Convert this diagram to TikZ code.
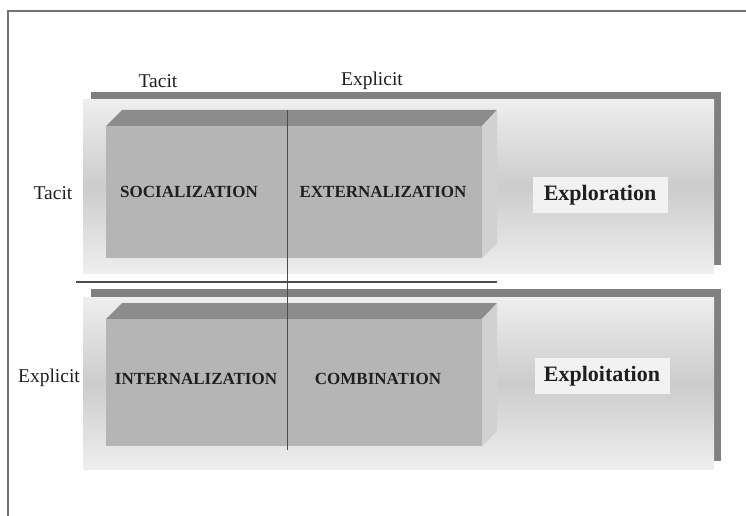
\documentclass[tikz,border=0pt]{standalone}
\usepackage{fontspec}
\setmainfont{Liberation Serif}
\usepackage{xcolor}
\usepackage{tikz}

\definecolor{frameGray}{gray}{0.45}
\definecolor{barGray}{gray}{0.5}
\definecolor{panelLight}{gray}{0.935}
\definecolor{panelMid}{gray}{0.8}
\definecolor{topGray}{gray}{0.55}
\definecolor{frontGray}{gray}{0.71}
\definecolor{sideGray}{gray}{0.82}
\definecolor{modeGray}{gray}{0.95}
\definecolor{lineGray}{gray}{0.3}
\definecolor{inkGray}{gray}{0.12}

\begin{document}
\begin{tikzpicture}[x=1pt, y=-1pt,
            quad/.style={font=\fontsize{17}{17}\selectfont\bfseries, text=inkGray, inner sep=0pt},
            axis/.style={font=\fontsize{19.5}{20}\selectfont, text=inkGray, inner sep=0pt},
            mode/.style={fill=modeGray, minimum width=135pt, minimum height=36pt, inner sep=0pt,
                         font=\fontsize{22}{22}\selectfont\bfseries, text=inkGray},
            panel/.style={top color=panelLight, bottom color=panelLight, middle color=panelMid}
            ]
            \useasboundingbox (0,0) rectangle (746,516);

            % Outer frame
            \draw[frameGray, line width=1.5pt] (746,11) -- (8,11) -- (8,516);

            % Upper panel with shadow and block
            \fill[barGray] (91,92) rectangle (721,265);
            \shade[panel] (83,100) rectangle (714,273);
            \fill[topGray] (106,126) -- (122,110) -- (497,110) -- (482,126) -- cycle;
            \fill[sideGray] (482,126) -- (497,110) -- (497,243) -- (482,258) -- cycle;
            \fill[frontGray] (106,126) rectangle (482,258);

            % Lower panel with shadow and block
            \fill[barGray] (91,289) rectangle (721,461);
            \shade[panel] (83,297) rectangle (714,469);
            \fill[topGray] (106,319) -- (122,303) -- (497,303) -- (482,319) -- cycle;
            \fill[sideGray] (482,319) -- (497,303) -- (497,431) -- (482,446) -- cycle;
            \fill[frontGray] (106,319) rectangle (482,446);

            % Dividers
            \coordinate (hleft) at (76,282);
            \coordinate (hright) at (497,282);
            \coordinate (vtop) at (287,110);
            \coordinate (vbot) at (287,450);
            \draw[lineGray, line width=1.3pt] (hleft) -- (hright);
            \draw[lineGray, line width=1pt] (vtop) -- (vbot);

            % Nodes with manual coordinates
            \node[axis] (tacittop) at (158,81) {Tacit};
            \node[axis] (explicittop) at (372,81) {Explicit};
            \node[axis] (tacitleft) at (53,193) {Tacit};
            \node[axis] (explicitleft) at (49,378) {Explicit};

            \node[quad] (soc) at (189,192) {SOCIALIZATION};
            \node[quad] (ext) at (383,192) {EXTERNALIZATION};
            \node[quad] (int) at (196,379) {INTERNALIZATION};
            \node[quad] (comb) at (378,379) {COMBINATION};

            \node[mode] (explor) at (600,195) {Exploration};
            \node[mode] (exploit) at (602,376) {Exploitation};
        \end{tikzpicture}
\end{document}
